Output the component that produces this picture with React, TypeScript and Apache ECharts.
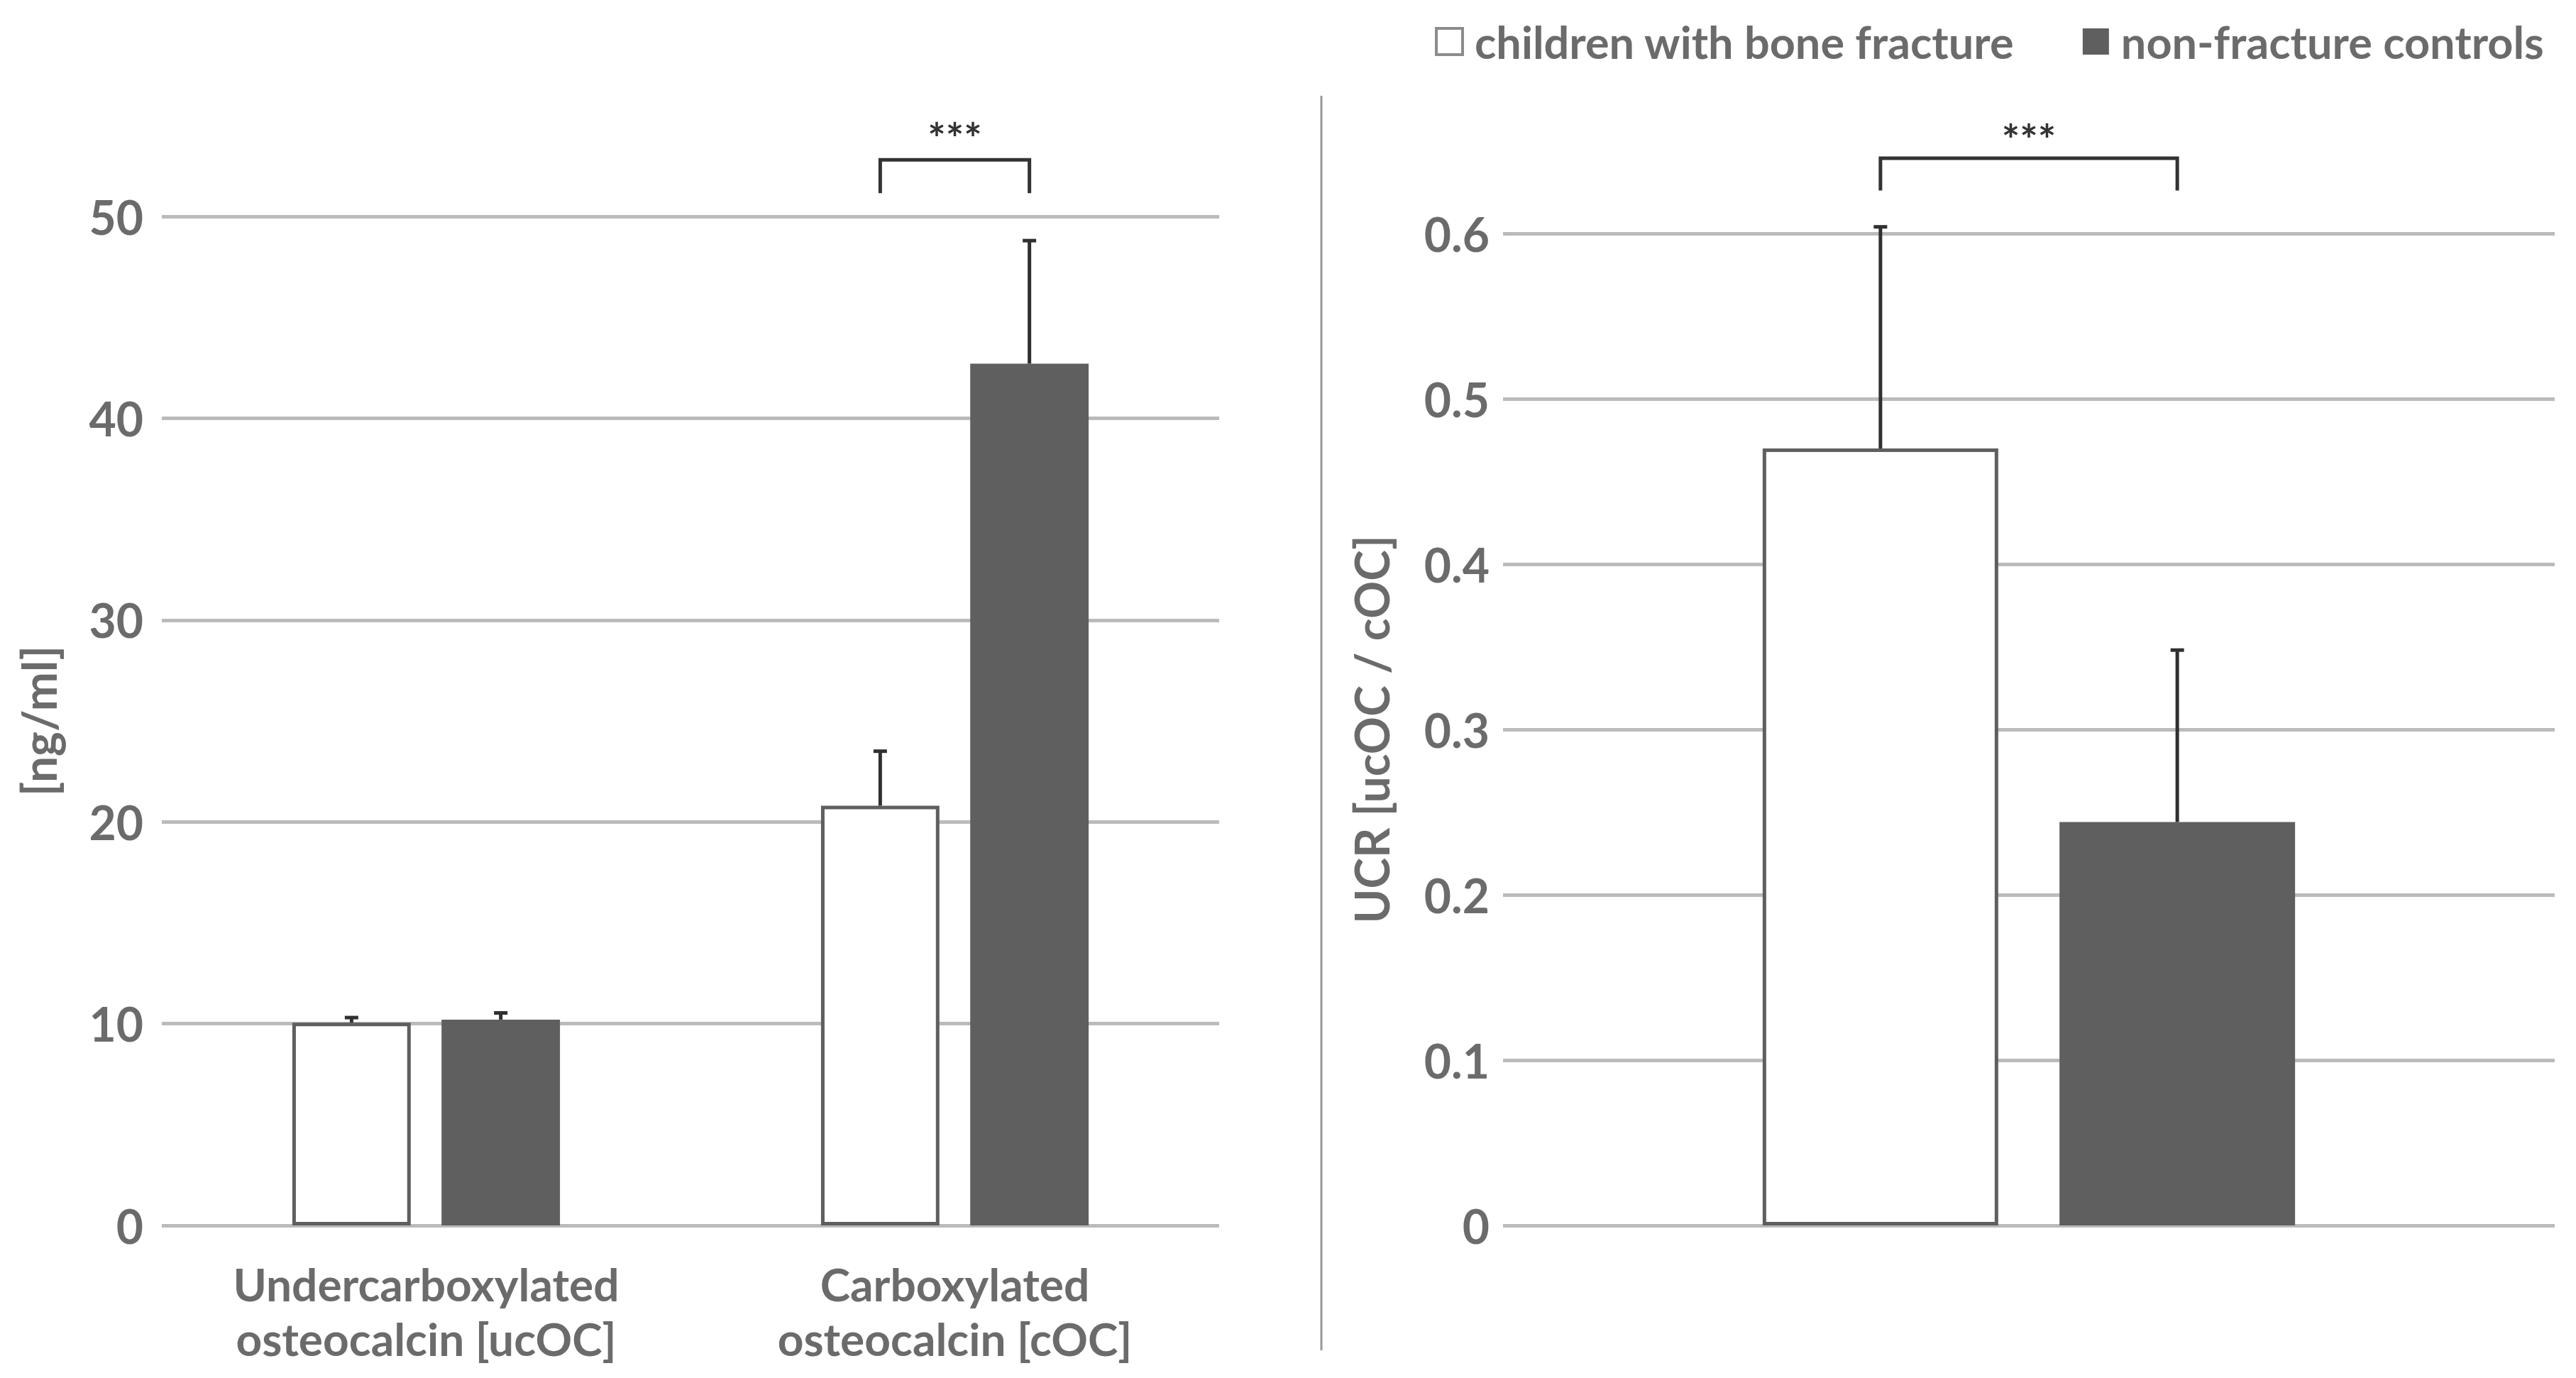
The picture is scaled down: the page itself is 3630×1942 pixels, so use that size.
import React, { useEffect, useRef } from "react";
import * as echarts from "echarts";

// ---------- data ----------
const seriesNames = ["children with bone fracture", "non-fracture controls"];

const leftCategories = ["Undercarboxylated\nosteocalcin [ucOC]", "Carboxylated\nosteocalcin [cOC]"];
const leftFractureMeans = [10.05, 20.8];
const leftFractureErr = [0.25, 2.7];
const leftControlMeans = [10.2, 42.7];
const leftControlErr = [0.33, 6.1];
const leftAxisName = "[ng/ml]";
const leftMax = 50;
const leftStep = 10;

const rightCategories = [""];
const rightFractureMeans = [0.47];
const rightFractureErr = [0.134];
const rightControlMeans = [0.244];
const rightControlErr = [0.104];
const rightAxisName = "UCR [ucOC / cOC]";
const rightMax = 0.6;
const rightStep = 0.1;

// significance brackets: [category index, bracket top level, leg bottom level, label level]
const leftBrackets = [[1, 52.8, 51.15, 53.9]];
const rightBrackets = [[0, 0.6455, 0.626, 0.657]];
const bracketLabel = "***";

// ---------- style ----------
const FONT = "Lato";
const TEXT_COLOR = "#6b6b6b";
const DARK = "#5f5f5f";
const GRID_COLOR = "#bbbbbb";
const ERR_COLOR = "#303030";
const BAR_W = 0.224;
const BAR_GAP = 0.26;
const BAR_OFFSET = (BAR_W * (1 + BAR_GAP)) / 2;

function errorRender(params: any, api: any) {
  const cat = api.value(0);
  const mean = api.value(1);
  const err = api.value(2);
  const grp = api.value(3);
  const band = api.size([1, 0])[0];
  const dx = (grp === 0 ? -1 : 1) * band * BAR_OFFSET;
  const base = api.coord([cat, mean]);
  const top = api.coord([cat, mean + err]);
  const x = base[0] + dx;
  return {
    type: "group",
    children: [
      { type: "line", shape: { x1: x, y1: base[1], x2: x, y2: top[1] }, style: { stroke: ERR_COLOR, lineWidth: 5 } },
      { type: "line", shape: { x1: x - 9.5, y1: top[1], x2: x + 9.5, y2: top[1] }, style: { stroke: ERR_COLOR, lineWidth: 5 } },
    ],
  };
}

function bracketRender(params: any, api: any) {
  const cat = api.value(0);
  const topV = api.value(1);
  const legV = api.value(2);
  const txtV = api.value(3);
  const band = api.size([1, 0])[0];
  const c = api.coord([cat, topV]);
  const leg = api.coord([cat, legV]);
  const t = api.coord([cat, txtV]);
  const xl = c[0] - band * BAR_OFFSET;
  const xr = c[0] + band * BAR_OFFSET;
  return {
    type: "group",
    children: [
      {
        type: "polyline",
        shape: { points: [[xl, leg[1]], [xl, c[1]], [xr, c[1]], [xr, leg[1]]] },
        style: { stroke: "#333333", lineWidth: 5, fill: "none", lineJoin: "miter" },
      },
      {
        type: "text",
        style: {
          text: bracketLabel,
          x: c[0],
          y: t[1],
          align: "center",
          verticalAlign: "middle",
          fontSize: 60,
          fontWeight: "bold",
          fontFamily: FONT,
          fill: "#333333",
        },
      },
    ],
  };
}

function errData(means: number[], errs: number[], grp: number) {
  return means.map((m, i) => [i, m, errs[i], grp]);
}

export default function App() {
  const ref = useRef<HTMLDivElement>(null);
  useEffect(() => {
    document.body.style.margin = "0";
    if (!ref.current) return;
    const chart = echarts.init(ref.current, undefined, { renderer: "svg" });

    const yLabel = { fontSize: 66, fontWeight: "bold", color: TEXT_COLOR, fontFamily: FONT };
    const split = { show: true, lineStyle: { color: GRID_COLOR, width: 5 } };
    const nameStyle = { fontSize: 66, fontWeight: "bold", color: TEXT_COLOR, fontFamily: FONT };

    const option: any = {
      animation: false,
      backgroundColor: "#ffffff",
      legend: {
        data: [
          { name: seriesNames[0], itemStyle: { color: "#ffffff", borderColor: "#8c8c8c", borderWidth: 4 } },
          { name: seriesNames[1], itemStyle: { color: DARK } },
        ],
        left: 2017,
        top: 22,
        icon: "rect",
        itemWidth: 37,
        itemHeight: 37,
        itemGap: 96,
        selectedMode: false,
        textStyle: { fontSize: 63, fontWeight: "bold", color: TEXT_COLOR, fontFamily: FONT, padding: [0, 0, 0, 12] },
      },
      grid: [
        { left: 228, top: 305, width: 1490, height: 1422 },
        { left: 2118, top: 329, width: 1482, height: 1398 },
      ],
      xAxis: [
        {
          type: "category",
          gridIndex: 0,
          data: leftCategories,
          axisLine: { show: false },
          axisTick: { show: false },
          axisLabel: { fontSize: 64, fontWeight: "bold", color: TEXT_COLOR, fontFamily: FONT, lineHeight: 77, margin: 44 },
        },
        {
          type: "category",
          gridIndex: 1,
          data: rightCategories,
          axisLine: { show: false },
          axisTick: { show: false },
          axisLabel: { show: false },
        },
      ],
      yAxis: [
        {
          type: "value",
          gridIndex: 0,
          min: 0,
          max: leftMax,
          interval: leftStep,
          axisLine: { show: false },
          axisTick: { show: false },
          axisLabel: { ...yLabel, margin: 26 },
          splitLine: split,
          name: leftAxisName,
          nameLocation: "middle",
          nameRotate: 90,
          nameGap: 141,
          nameTextStyle: nameStyle,
        },
        {
          type: "value",
          gridIndex: 1,
          min: 0,
          max: rightMax,
          interval: rightStep,
          axisLine: { show: false },
          axisTick: { show: false },
          axisLabel: { ...yLabel, margin: 19, formatter: (v: number) => (v === 0 ? "0" : v.toFixed(1)) },
          splitLine: split,
          name: rightAxisName,
          nameLocation: "middle",
          nameRotate: 90,
          nameGap: 153,
          nameTextStyle: nameStyle,
        },
      ],
      series: [
        {
          name: seriesNames[0],
          type: "bar",
          xAxisIndex: 0,
          yAxisIndex: 0,
          data: leftFractureMeans,
          barWidth: BAR_W * 100 + "%",
          barGap: BAR_GAP * 100 + "%",
          itemStyle: { color: "#ffffff", borderColor: DARK, borderWidth: 5 },
        },
        {
          name: seriesNames[1],
          type: "bar",
          xAxisIndex: 0,
          yAxisIndex: 0,
          data: leftControlMeans,
          barWidth: BAR_W * 100 + "%",
          barGap: BAR_GAP * 100 + "%",
          itemStyle: { color: DARK },
        },
        {
          name: seriesNames[0],
          type: "bar",
          xAxisIndex: 1,
          yAxisIndex: 1,
          data: rightFractureMeans,
          barWidth: BAR_W * 100 + "%",
          barGap: BAR_GAP * 100 + "%",
          itemStyle: { color: "#ffffff", borderColor: DARK, borderWidth: 5 },
        },
        {
          name: seriesNames[1],
          type: "bar",
          xAxisIndex: 1,
          yAxisIndex: 1,
          data: rightControlMeans,
          barWidth: BAR_W * 100 + "%",
          barGap: BAR_GAP * 100 + "%",
          itemStyle: { color: DARK },
        },
        {
          type: "custom",
          xAxisIndex: 0,
          yAxisIndex: 0,
          renderItem: errorRender,
          encode: { x: 0, y: 1 },
          z: 5,
          data: [...errData(leftFractureMeans, leftFractureErr, 0), ...errData(leftControlMeans, leftControlErr, 1)],
        },
        {
          type: "custom",
          xAxisIndex: 1,
          yAxisIndex: 1,
          renderItem: errorRender,
          encode: { x: 0, y: 1 },
          z: 5,
          data: [...errData(rightFractureMeans, rightFractureErr, 0), ...errData(rightControlMeans, rightControlErr, 1)],
        },
        {
          type: "custom",
          xAxisIndex: 0,
          yAxisIndex: 0,
          renderItem: bracketRender,
          encode: { x: 0, y: 1 },
          z: 5,
          data: leftBrackets,
        },
        {
          type: "custom",
          xAxisIndex: 1,
          yAxisIndex: 1,
          renderItem: bracketRender,
          encode: { x: 0, y: 1 },
          z: 5,
          data: rightBrackets,
        },
      ],
      graphic: [
        {
          type: "line",
          shape: { x1: 1862, y1: 135, x2: 1862, y2: 1903 },
          style: { stroke: "#999999", lineWidth: 3 },
        },
      ],
    };
    chart.setOption(option);
    return () => chart.dispose();
  }, []);
  return <div ref={ref} style={{ width: 3630, height: 1942 }} />;
}
